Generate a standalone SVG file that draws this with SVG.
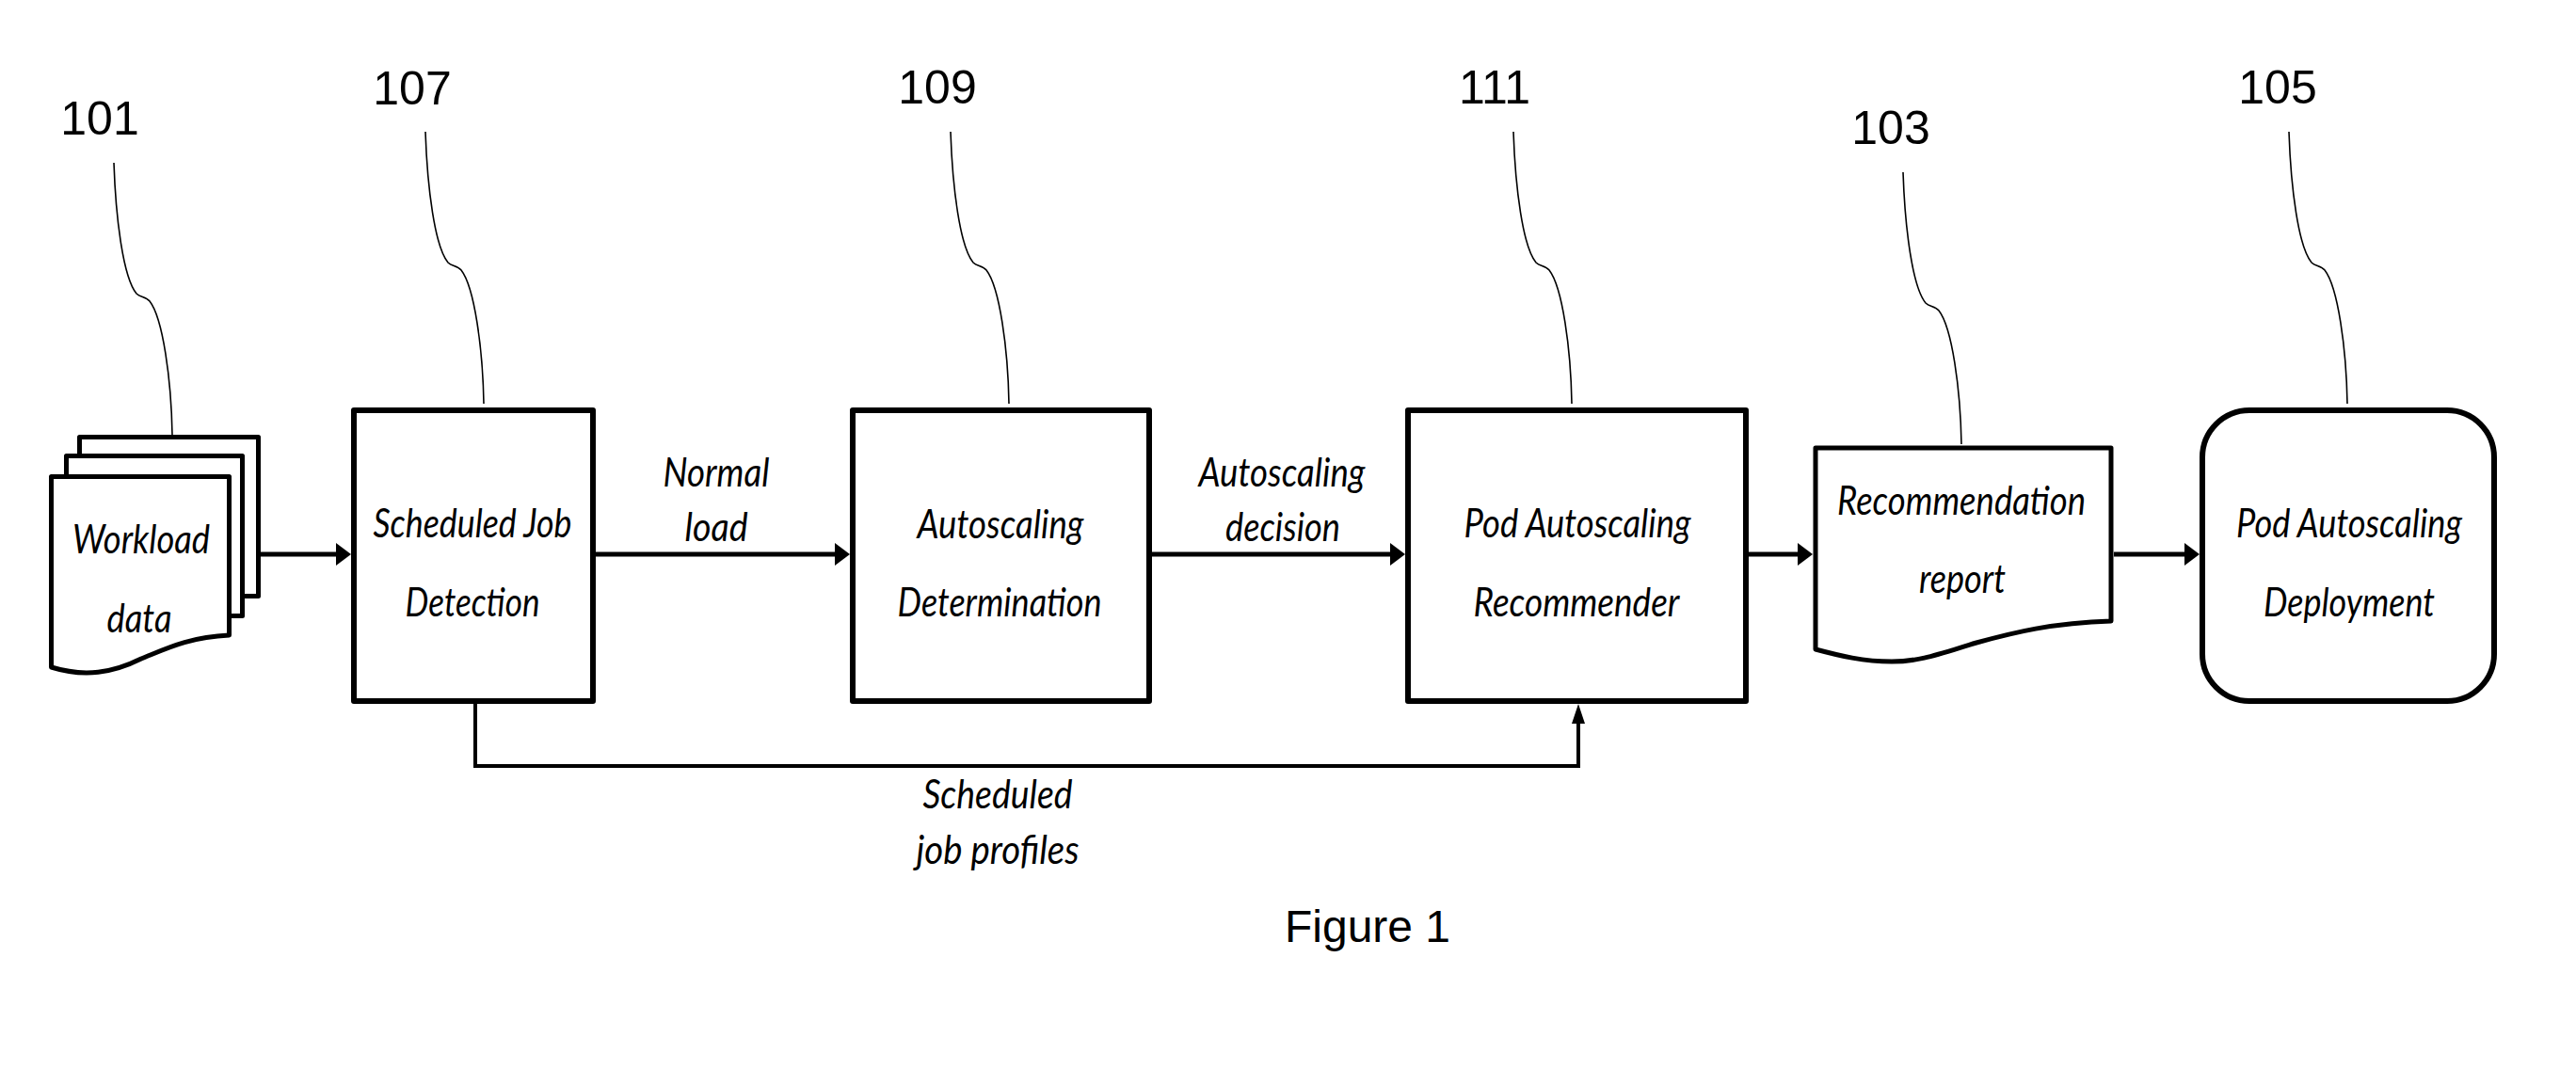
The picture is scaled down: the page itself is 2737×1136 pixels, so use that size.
<svg xmlns="http://www.w3.org/2000/svg" width="2737" height="1136" viewBox="0 0 2737 1136">
<style>
  .box { fill: #fff; stroke: #000; stroke-width: 6; stroke-linejoin: round; }
  .doc { fill: #fff; stroke: #000; stroke-width: 5; stroke-linejoin: round; }
  .lbl { font-family: Lato, "Open Sans", "Liberation Sans", sans-serif; font-style: italic; font-size: 42px; fill: #000; text-anchor: middle; }
  .num { font-family: "Liberation Sans", Arial, sans-serif; font-size: 50px; fill: #000; text-anchor: middle; }
  .fig { font-family: "Liberation Sans", Arial, sans-serif; font-size: 48px; fill: #000; text-anchor: middle; }
  .lead { fill: none; stroke: #000; stroke-width: 1.6; }
  .flow { fill: none; stroke: #000; stroke-width: 5; }
  .fb { fill: none; stroke: #000; stroke-width: 4; }
</style>
<defs>
  <marker id="ah" markerUnits="userSpaceOnUse" viewBox="0 0 16 24" refX="4" refY="12" markerWidth="16" markerHeight="24" orient="auto">
    <path d="M0,0 L16,12 L0,24 Z" fill="#000"/>
  </marker>
  <marker id="ahs" markerUnits="userSpaceOnUse" viewBox="0 0 21 14" refX="5" refY="7" markerWidth="21" markerHeight="14" orient="auto">
    <path d="M0,0 L21,7 L0,14 Z" fill="#000"/>
  </marker>
  <path id="leader" d="M0,0 C 2,60 10,122 24,139 C 28,143 34,142 38,147 C 52,165 61,230 62,289"/>
</defs>
<rect width="2737" height="1136" fill="#fff"/>

<g id="connectors">
  <line class="flow" x1="277" y1="589" x2="361" y2="589" marker-end="url(#ah)"/>
  <line class="flow" x1="633" y1="589" x2="891" y2="589" marker-end="url(#ah)"/>
  <line class="flow" x1="1224" y1="589" x2="1481" y2="589" marker-end="url(#ah)"/>
  <line class="flow" x1="1858" y1="589" x2="1914" y2="589" marker-end="url(#ah)"/>
  <line class="flow" x1="2246" y1="589" x2="2325" y2="589" marker-end="url(#ah)"/>
  <polyline class="fb" points="505,748 505,814 1677,814 1677,764" marker-end="url(#ahs)"/>
  <text class="lbl" x="761" y="517" textLength="113" lengthAdjust="spacingAndGlyphs">Normal</text>
  <text class="lbl" x="761" y="575" textLength="67" lengthAdjust="spacingAndGlyphs">load</text>
  <text class="lbl" x="1362" y="517" textLength="177" lengthAdjust="spacingAndGlyphs">Autoscaling</text>
  <text class="lbl" x="1363" y="575" textLength="122" lengthAdjust="spacingAndGlyphs">decision</text>
  <text class="lbl" x="1060" y="859" textLength="159" lengthAdjust="spacingAndGlyphs">Scheduled</text>
  <text class="lbl" x="1060" y="918" textLength="173" lengthAdjust="spacingAndGlyphs">job profiles</text>
</g>

<g id="leaders">
  <use href="#leader" class="lead" x="121" y="173"/>
  <use href="#leader" class="lead" x="452" y="140"/>
  <use href="#leader" class="lead" x="1010" y="140"/>
  <use href="#leader" class="lead" x="1608" y="140"/>
  <use href="#leader" class="lead" x="2022" y="183"/>
  <use href="#leader" class="lead" x="2432" y="140"/>
</g>

<g id="n101">
  <rect class="doc" x="84.5" y="464.5" width="190" height="169"/>
  <rect class="doc" x="70.5" y="484.5" width="187" height="170"/>
  <path class="doc" d="M54.5,506.5 H243.5 V675 C 200,677 175,690 150,700 C 120,715 90,720 54.5,709 Z"/>
  <text class="lbl" x="150" y="588" textLength="146" lengthAdjust="spacingAndGlyphs">Workload</text>
  <text class="lbl" x="148" y="672" textLength="69" lengthAdjust="spacingAndGlyphs">data</text>
  <text class="num" x="106" y="143">101</text>
</g>

<g id="n107">
  <rect class="box" x="376" y="436" width="254" height="309"/>
  <text class="lbl" x="502" y="571" textLength="211" lengthAdjust="spacingAndGlyphs">Scheduled Job</text>
  <text class="lbl" x="502" y="655" textLength="143" lengthAdjust="spacingAndGlyphs">Detection</text>
  <text class="num" x="438" y="111">107</text>
</g>

<g id="n109">
  <rect class="box" x="906" y="436" width="315" height="309"/>
  <text class="lbl" x="1063" y="572" textLength="177" lengthAdjust="spacingAndGlyphs">Autoscaling</text>
  <text class="lbl" x="1062" y="655" textLength="217" lengthAdjust="spacingAndGlyphs">Determination</text>
  <text class="num" x="996" y="110">109</text>
</g>

<g id="n111">
  <rect class="box" x="1496" y="436" width="359" height="309"/>
  <text class="lbl" x="1676" y="571" textLength="241" lengthAdjust="spacingAndGlyphs">Pod Autoscaling</text>
  <text class="lbl" x="1675" y="655" textLength="219" lengthAdjust="spacingAndGlyphs">Recommender</text>
  <text class="num" x="1588" y="110">111</text>
</g>

<g id="n103">
  <path class="doc" d="M1929,476 H2243 V660 C 2180,662 2140,672 2100,683 C 2060,695 2040,703 2010,703 C 1980,703 1955,697 1929,690 Z" stroke-width="6"/>
  <text class="lbl" x="2084" y="547" textLength="264" lengthAdjust="spacingAndGlyphs">Recommendation</text>
  <text class="lbl" x="2085" y="630" textLength="92" lengthAdjust="spacingAndGlyphs">report</text>
  <text class="num" x="2009" y="153">103</text>
</g>

<g id="n105">
  <rect class="box" x="2340" y="436" width="310" height="309" rx="50" ry="50"/>
  <text class="lbl" x="2496" y="571" textLength="240" lengthAdjust="spacingAndGlyphs">Pod Autoscaling</text>
  <text class="lbl" x="2496" y="655" textLength="182" lengthAdjust="spacingAndGlyphs">Deployment</text>
  <text class="num" x="2420" y="110">105</text>
</g>

<text class="fig" x="1453" y="1001">Figure 1</text>
</svg>
